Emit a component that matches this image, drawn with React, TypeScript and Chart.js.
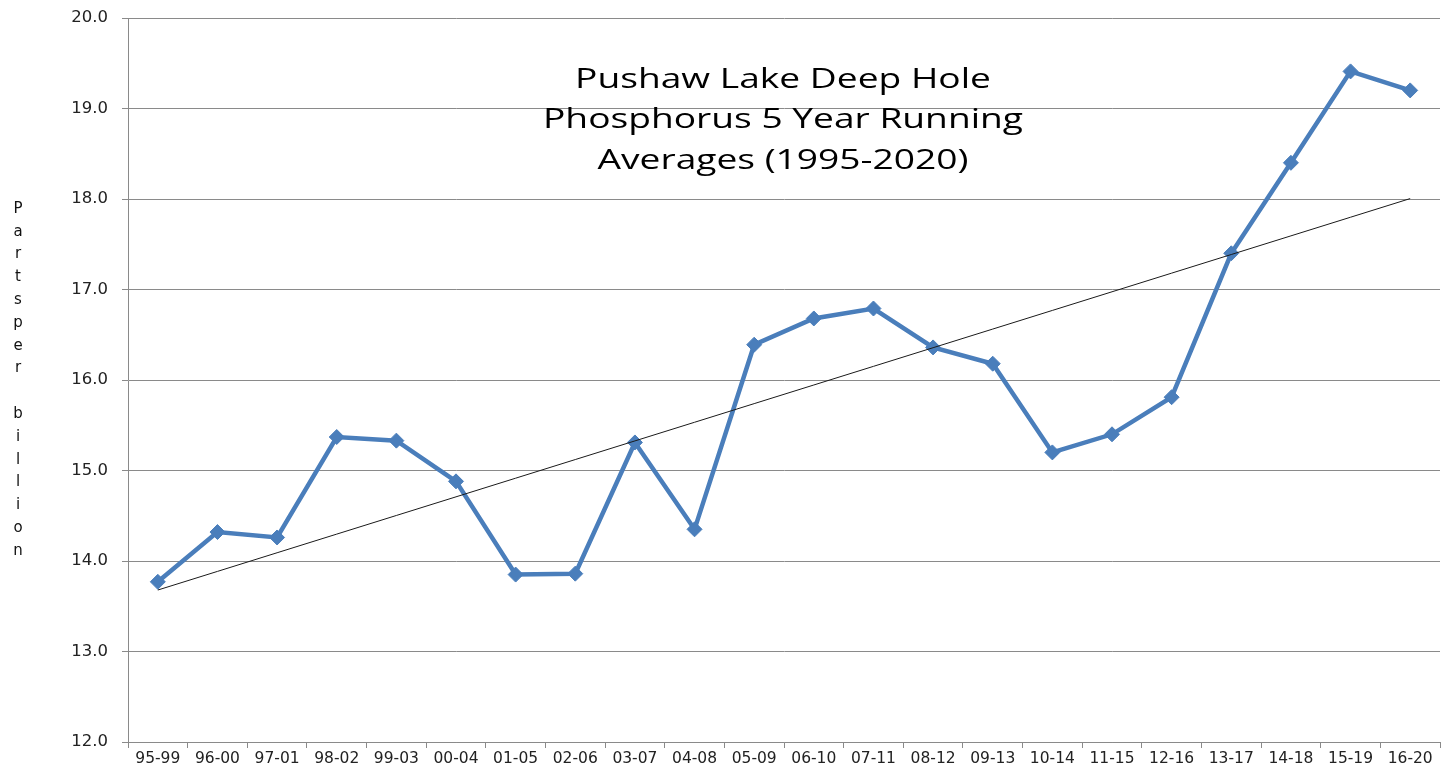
import React, { useEffect, useRef } from "react";
import { Chart, registerables } from "chart.js";

Chart.register(...registerables);

const categories = [
  "95-99", "96-00", "97-01", "98-02", "99-03", "00-04", "01-05", "02-06",
  "03-07", "04-08", "05-09", "06-10", "07-11", "08-12", "09-13", "10-14",
  "11-15", "12-16", "13-17", "14-18", "15-19", "16-20",
];

const phosphorus = [
  13.77, 14.32, 14.26, 15.37, 15.33, 14.88, 13.85, 13.86, 15.31, 14.35, 16.39,
  16.68, 16.79, 16.36, 16.18, 15.2, 15.4, 15.81, 17.4, 18.4, 19.41, 19.2,
];

const titleLines = [
  "Pushaw Lake Deep Hole",
  "Phosphorus 5 Year Running",
  "Averages (1995-2020)",
];

const yAxisTitle = "Partsper billion";

const yMin = 12;
const yMax = 20;

// Linear (least squares) trendline derived from the series, as in the source chart
function linearTrend(values: number[]): number[] {
  const n = values.length;
  let sx = 0, sy = 0, sxy = 0, sxx = 0;
  values.forEach((v, i) => {
    sx += i; sy += v; sxy += i * v; sxx += i * i;
  });
  const slope = (n * sxy - sx * sy) / (n * sxx - sx * sx);
  const intercept = (sy - slope * sx) / n;
  return values.map((_, i) => intercept + slope * i);
}

const overlayPlugin = {
  id: "overlayText",
  afterDraw(chart: any) {
    const { ctx, chartArea } = chart;
    ctx.save();
    // Title inside the plot area
    ctx.fillStyle = "#000";
    ctx.font = '27px "Open Sans", Lato, sans-serif';
    ctx.textAlign = "center";
    ctx.textBaseline = "alphabetic";
    const refW = ctx.measureText(titleLines[1]).width;
    const sx = 480 / refW;
    const cx = (chartArea.left + chartArea.right) / 2 - 1;
    titleLines.forEach((line, i) => {
      ctx.save();
      ctx.translate(cx, chartArea.top + 69.5 + i * 40.5);
      ctx.scale(sx, 1);
      ctx.fillText(line, 0, 0);
      ctx.restore();
    });
    // Stacked vertical y-axis title
    ctx.font = '15px "DejaVu Sans", sans-serif';
    ctx.textBaseline = "middle";
    ctx.fillStyle = "#111";
    const chars = Array.from(yAxisTitle);
    const step = 22.8;
    const cy = (chartArea.top + chartArea.bottom) / 2;
    chars.forEach((ch, i) => {
      if (ch === " ") return;
      ctx.fillText(ch, 18, cy + (i - (chars.length - 1) / 2) * step);
    });
    ctx.restore();
  },
};

export default function App() {
  const canvasRef = useRef<HTMLCanvasElement | null>(null);

  useEffect(() => {
    if (!canvasRef.current) return;
    const trend = linearTrend(phosphorus);
    const chart = new Chart(canvasRef.current, {
      type: "line",
      data: {
        labels: categories,
        datasets: [
          {
            label: "Linear trend",
            data: trend,
            borderColor: "#1a1a1a",
            borderWidth: 1,
            pointRadius: 0,
            fill: false,
            tension: 0,
          },
          {
            label: "Phosphorus",
            data: phosphorus,
            borderColor: "#4a7ebb",
            backgroundColor: "#4a7ebb",
            borderWidth: 4.5,
            pointStyle: "rectRot",
            pointRadius: 7.5,
            pointBorderWidth: 1,
            pointBackgroundColor: "#4a7ebb",
            pointBorderColor: "#4a7ebb",
            fill: false,
            tension: 0,
          },
        ],
      },
      options: {
        animation: false,
        responsive: true,
        maintainAspectRatio: false,
        layout: { padding: { left: 0, top: 18, right: 9, bottom: 0 } },
        plugins: {
          legend: { display: false },
          tooltip: { enabled: false },
          title: { display: false },
        },
        scales: {
          x: {
            type: "category",
            offset: true,
            grid: {
              offset: true,
              drawOnChartArea: false,
              drawTicks: true,
              tickLength: 6,
              color: "#8a8a8a",
            },
            border: { color: "#8a8a8a", width: 1 },
            ticks: {
              autoSkip: false,
              maxRotation: 0,
              padding: 2,
              color: "#222",
              font: { family: '"DejaVu Sans", sans-serif', size: 15.5 },
            },
            afterFit: (s: any) => {
              s.height = 28;
              s.paddingLeft = 0;
              s.paddingRight = 0;
            },
          },
          y: {
            min: yMin,
            max: yMax,
            grid: {
              color: "#8a8a8a",
              tickLength: 6,
              drawTicks: true,
            },
            border: { color: "#8a8a8a", width: 1 },
            ticks: {
              stepSize: 1,
              padding: 14,
              color: "#222",
              font: { family: '"DejaVu Sans", sans-serif', size: 16.5 },
              callback: (v: any) => Number(v).toFixed(1),
            },
            afterFit: (s: any) => {
              s.width = 128;
              s.paddingTop = 0;
              s.paddingBottom = 0;
            },
          },
        },
      },
      plugins: [overlayPlugin],
    });
    return () => chart.destroy();
  }, []);

  return (
    <div
      style={{
        position: "absolute",
        left: 0,
        top: 0,
        width: "1449px",
        height: "770px",
        background: "#fff",
      }}
    >
      <canvas ref={canvasRef} />
    </div>
  );
}
